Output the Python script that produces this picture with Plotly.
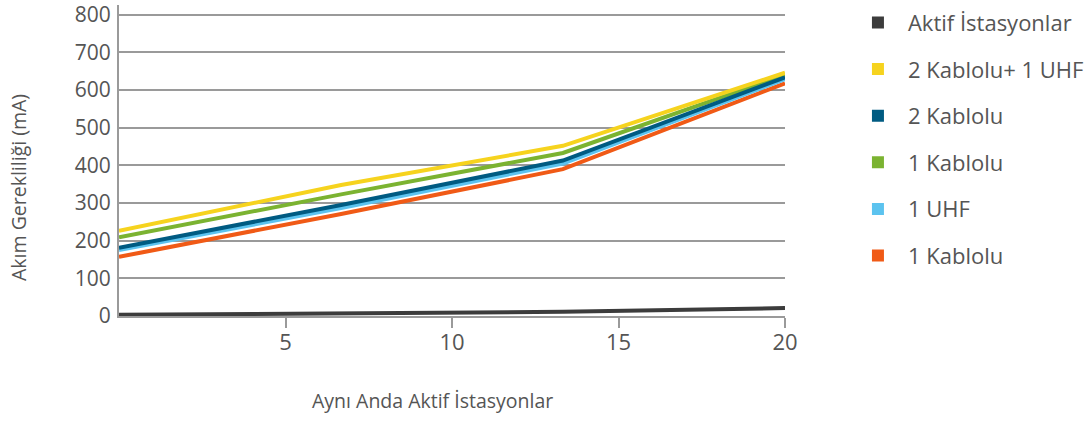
import plotly.graph_objects as go

# Data
x_vals = [0, 6.67, 13.33, 20]
series_names = ["Aktif İstasyonlar", "2 Kablolu+ 1 UHF", "2 Kablolu", "1 Kablolu", "1 UHF", "1 Kablolu"]
aktif = [3, 7, 11, 21]
kablolu2_uhf1 = [226, 348, 452, 646]
kablolu2 = [181, 295, 413, 634]
kablolu1_green = [209, 323, 433, 640]
uhf1 = [175, 287, 405, 629]
kablolu1_orange = [157, 271, 390, 618]
colors = ["#3c3c3c", "#f6d31e", "#005b82", "#7bb331", "#5cc3ef", "#f05a16"]
y_ticks = [0, 100, 200, 300, 400, 500, 600, 700, 800]
x_ticks = [5, 10, 15, 20]

series = [aktif, kablolu2_uhf1, kablolu2, kablolu1_green, uhf1, kablolu1_orange]

FONT = "Open Sans"
TXT = "#555555"
GRID = "#9a9a9a"

fig = go.Figure()

# draw order: bottom to top
draw_order = [5, 4, 3, 2, 1, 0]
for i in draw_order:
    fig.add_trace(go.Scatter(
        x=x_vals, y=series[i], mode="lines",
        line=dict(color=colors[i], width=4),
        showlegend=False, hoverinfo="skip",
    ))

# legend entries as squares
for i, name in enumerate(series_names):
    fig.add_trace(go.Scatter(
        x=[None], y=[None], mode="markers", name=name,
        marker=dict(symbol="square", size=12, color=colors[i]),
        legendgroup=f"g{i}",
    ))

fig.update_layout(
    width=1086, height=421,
    margin=dict(l=119, r=301, t=5, b=105, autoexpand=False),
    paper_bgcolor="white", plot_bgcolor="white",
    font=dict(family=FONT, color=TXT, size=19),
    legend=dict(
        xref="container", yref="container",
        x=0.7808, xanchor="left", y=0.996, yanchor="top",
        font=dict(family=FONT, size=22, color=TXT),
        tracegroupgap=15, itemwidth=50, maxheight=421,
        bgcolor="rgba(0,0,0,0)",
    ),
    xaxis=dict(
        range=[0, 20], tickvals=x_ticks,
        showgrid=False, zeroline=False, automargin=False,
        showline=True, linecolor=GRID, linewidth=2,
        ticks="outside", ticklen=10, tickwidth=2, tickcolor=GRID,
        ticklabelstandoff=-4,
        tickfont=dict(family=FONT, size=22, color=TXT),
    ),
    yaxis=dict(
        range=[0, 826], tickvals=y_ticks,
        showgrid=True, gridcolor=GRID, gridwidth=2,
        zeroline=False, automargin=False,
        showline=True, linecolor=GRID, linewidth=2,
        ticks="", ticklabelstandoff=2, ticklabeloverflow="allow",
        tickfont=dict(family=FONT, size=21, color=TXT),
    ),
    annotations=[
        dict(text="Aynı Anda Aktif İstasyonlar", xref="paper", yref="paper",
             x=0.47, y=-0.273, xanchor="center", yanchor="middle", showarrow=False,
             font=dict(family=FONT, size=19.5, color=TXT)),
        dict(text="Akım Gerekliliği (mA)", xref="paper", yref="paper",
             x=-0.150, y=0.412, xanchor="center", yanchor="middle", showarrow=False,
             textangle=-90, font=dict(family=FONT, size=19.5, color=TXT)),
    ],
)

fig.write_html("out.html", config={"displayModeBar": False},
               post_script="document.body.style.margin='0';")
